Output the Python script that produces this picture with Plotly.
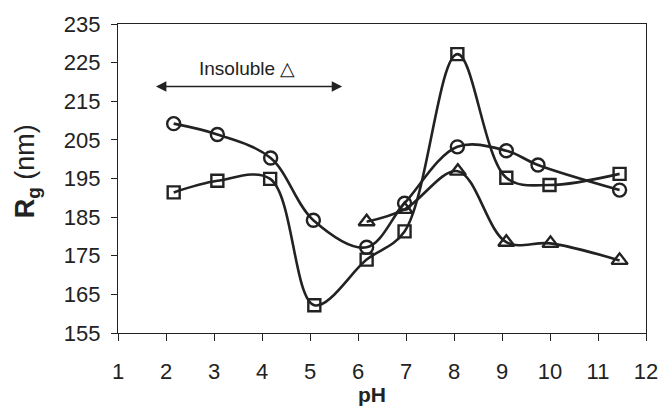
import plotly.graph_objects as go

# Data
ph_circle = [2.16, 3.07, 4.18, 5.07, 6.18, 6.97, 8.07, 9.09, 9.75, 11.45]
rg_circle = [209.2, 206.4, 200.3, 184.2, 177.2, 188.6, 203.2, 202.2, 198.5, 192.0]

ph_square = [2.16, 3.07, 4.17, 5.09, 6.18, 6.97, 8.07, 9.09, 9.99, 11.45]
rg_square = [191.4, 194.4, 194.9, 162.2, 174.0, 181.3, 227.2, 195.2, 193.3, 196.2]

ph_triangle = [6.18, 6.97, 8.08, 9.09, 10.01, 11.45]
rg_triangle = [183.8, 187.0, 196.9, 178.5, 178.2, 173.8]

x_ticks = list(range(1, 13))
y_ticks = list(range(155, 236, 10))

insoluble_ph_range = [1.76, 5.67]
insoluble_rg = 218.8
insoluble_label = "Insoluble \u25b3"

INK = "#222222"
FONT = "Liberation Sans, Arial, sans-serif"

fig = go.Figure()

def add_series(x, y, symbol, size):
    fig.add_trace(go.Scatter(
        x=x, y=y, mode="lines+markers",
        line=dict(color=INK, width=2.6, shape="spline", smoothing=1.0),
        marker=dict(symbol=symbol, size=size, color="rgba(255,255,255,0)",
                    line=dict(color=INK, width=2.4)),
        showlegend=False, cliponaxis=False,
    ))

add_series(ph_triangle, rg_triangle, "triangle-up", 14)
add_series(ph_square, rg_square, "square", 12)
add_series(ph_circle, rg_circle, "circle", 13)

# double-headed arrow
fig.add_annotation(
    x=insoluble_ph_range[1], y=insoluble_rg,
    ax=insoluble_ph_range[0], ay=insoluble_rg,
    xref="x", yref="y", axref="x", ayref="y",
    text="", showarrow=True, arrowhead=2, arrowside="end+start",
    arrowsize=1.3, arrowwidth=1.6, arrowcolor=INK,
)
fig.add_annotation(
    x=sum(insoluble_ph_range) / 2 - 0.03, y=insoluble_rg, xref="x", yref="y",
    text=insoluble_label, showarrow=False, yanchor="bottom", yshift=6,
    font=dict(family=FONT, size=19, color=INK),
)

# axis titles as annotations for placement
fig.add_annotation(
    xref="paper", yref="paper", x=-0.172, y=0.524,
    text="<b>R<sub>g</sub> </b>(nm)", textangle=-90, showarrow=False,
    font=dict(family=FONT, size=27, color=INK),
    xanchor="center", yanchor="middle",
)
fig.add_annotation(
    xref="paper", yref="paper", x=0.482, y=-0.198,
    text="<b>pH</b>", showarrow=False,
    font=dict(family=FONT, size=21, color=INK),
    xanchor="center", yanchor="middle",
)

fig.update_xaxes(
    range=[1, 12], tickvals=x_ticks, ticks="outside", ticklen=7, tickwidth=1.3,
    tickcolor=INK, showline=True, linecolor=INK, linewidth=1.3, mirror=True,
    showgrid=False, zeroline=False, ticklabelstandoff=11,
    tickfont=dict(family=FONT, size=22, color=INK),
)
fig.update_yaxes(
    range=[155, 235], tickvals=y_ticks, ticks="outside", ticklen=6, tickwidth=1.3,
    tickcolor=INK, showline=True, linecolor=INK, linewidth=1.3, mirror=True,
    showgrid=False, zeroline=False, ticklabelstandoff=6,
    tickfont=dict(family=FONT, size=22, color=INK),
)

fig.update_layout(
    width=670, height=410,
    margin=dict(l=118, r=13, t=22, b=77),
    paper_bgcolor="white", plot_bgcolor="white",
    font=dict(family=FONT, color=INK),
)

fig.write_html("out.html", config={"displayModeBar": False},
               post_script="document.body.style.margin='0';")
